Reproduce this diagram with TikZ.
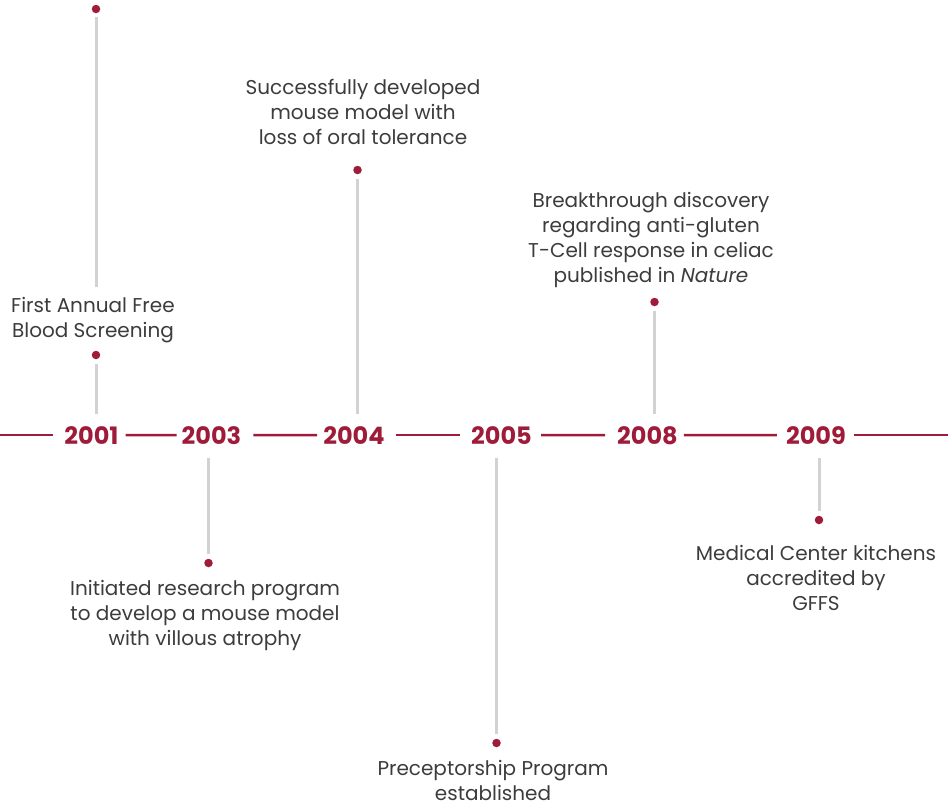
\documentclass[tikz,border=0pt]{standalone}
\usepackage{fontspec}
\setmainfont{Poppins}
\definecolor{tlred}{RGB}{158,27,58}
\definecolor{stemgray}{RGB}{210,210,210}
\definecolor{txtgray}{RGB}{60,60,60}
\begin{document}
\begin{tikzpicture}[x=1pt,y=-1pt,
 year/.style={font=\fontsize{24}{28}\selectfont\bfseries, text=tlred, inner sep=0pt, anchor=base},
 mainline/.style={draw=tlred, line width=2.5pt},
 stem/.style={draw=stemgray, line width=3pt},
 dot/.style={circle, fill=tlred, inner sep=0pt, minimum size=8.5pt},
 evtext/.style={font=\fontsize{20}{25}\selectfont, text=txtgray, align=center, inner sep=0pt, anchor=base}]
\useasboundingbox (0,0) rectangle (948,806);

% years
\node[year] (y2001) at (91.5,444) {2001};
\node[year] (y2003) at (211.5,444) {2003};
\node[year] (y2004) at (354,444) {2004};
\node[year] (y2005) at (501.5,444) {2005};
\node[year] (y2008) at (647.5,444) {2008};
\node[year] (y2009) at (816,444) {2009};
\coordinate (leftedge) at (0,0);
\coordinate (rightedge) at (948,0);
\coordinate (L) at (y2001.west -| leftedge);
\coordinate (R) at (y2009.east -| rightedge);

\draw[mainline, shorten >=11pt] (L) -- (y2001.west);
\draw[mainline, shorten <=7pt, shorten >=5pt] (y2001.east) -- (y2003.west);
\draw[mainline, shorten <=12pt, shorten >=6pt] (y2003.east) -- (y2004.west);
\draw[mainline, shorten <=11pt, shorten >=11pt] (y2004.east) -- (y2005.west);
\draw[mainline, shorten <=9pt, shorten >=12pt] (y2005.east) -- (y2008.west);
\draw[mainline, shorten <=6pt, shorten >=9pt] (y2008.east) -- (y2009.west);
\draw[mainline, shorten <=8pt] (y2009.east) -- (R);

% dots
\node[dot] (d1a) at (96,9) {};
\node[dot] (d1b) at (96,355) {};
\node[dot] (d3) at (208.5,563) {};
\node[dot] (d4) at (357.5,170) {};
\node[dot] (d5) at (496.5,743) {};
\node[dot] (d8) at (654.5,302) {};
\node[dot] (d9) at (819,520) {};
\coordinate (s1a) at (96,287);

% stems
\draw[stem, shorten <=4pt] (d1a) -- (s1a);
\draw[stem, shorten <=5pt, shorten >=12pt] (d1b) -- (d1b |- y2001.north);
\draw[stem, shorten <=14pt, shorten >=5pt] (d3 |- y2003.south) -- (d3);
\draw[stem, shorten <=5pt, shorten >=12pt] (d4) -- (d4 |- y2004.north);
\draw[stem, shorten <=14pt, shorten >=5pt] (d5 |- y2005.south) -- (d5);
\draw[stem, shorten <=5pt, shorten >=12pt] (d8) -- (d8 |- y2008.north);
\draw[stem, shorten <=14pt, shorten >=5pt] (d9 |- y2009.south) -- (d9);

% texts
\node[evtext] (t1) at (93,337) {First Annual Free\\Blood Screening};
\node[evtext] (t3) at (205,645) {Initiated research program\\to develop a mouse model\\with villous atrophy};
\node[evtext] (t4) at (363,144) {Successfully developed\\mouse model with\\loss of oral tolerance};
\node[evtext] (t5) at (493,800) {Preceptorship Program\\established};
\node[evtext] (t8) at (651,282) {Breakthrough discovery\\regarding anti-gluten\\T-Cell response in celiac\\published in \textit{Nature}};
\node[evtext] (t9) at (816,610) {Medical Center kitchens\\accredited by\\GFFS};
\end{tikzpicture}
\end{document}
